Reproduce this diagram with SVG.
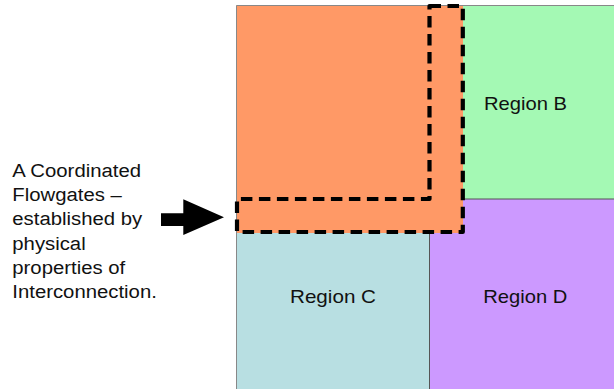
<svg xmlns="http://www.w3.org/2000/svg" width="614" height="389" viewBox="0 0 614 389">
<style>
.lbl{font-family:"Liberation Sans",Arial,sans-serif;font-size:18.5px;fill:#111}
.note{font-family:"Liberation Sans",Arial,sans-serif;font-size:19px;fill:#111}
.edge{stroke:#555;stroke-width:1;fill:none}
</style>
<rect width="614" height="389" fill="#fff"/>
<g id="regionB">
<rect x="463" y="5" width="151" height="194" fill="#A4F9B4"/>
<text class="lbl" x="525.5" y="110" text-anchor="middle" textLength="83" lengthAdjust="spacingAndGlyphs">Region B</text>
</g>
<g id="regionD">
<rect x="429.5" y="199" width="184.5" height="190" fill="#CC99FF"/>
<text class="lbl" x="525.3" y="303" text-anchor="middle" textLength="84" lengthAdjust="spacingAndGlyphs">Region D</text>
</g>
<g id="regionC">
<rect x="236.5" y="232" width="193" height="157" fill="#B8DFE2"/>
<text class="lbl" x="333" y="303" text-anchor="middle" textLength="86" lengthAdjust="spacingAndGlyphs">Region C</text>
</g>
<g id="borders">
<path class="edge" d="M429.5 233V389M463 199H614"/>
</g>
<g id="regionA">
<rect x="236.5" y="5" width="226.5" height="228" fill="#FF9966"/>
<path d="M236.5 389V5.5H614" fill="none" stroke="#888" stroke-width="1"/>
</g>
<g id="flowgate">
<path d="M429.5 6H462.8V232H237V199H429.5Z" fill="none" stroke="#000" stroke-width="4.2" stroke-dasharray="11.5 6.5" stroke-linejoin="round"/>
</g>
<g id="note">
<g transform="translate(12.3,0) scale(1.07,1)">
<text class="note" x="0" y="177">A Coordinated</text>
<text class="note" x="0" y="201.2">Flowgates –</text>
<text class="note" x="0" y="225.4">established by</text>
<text class="note" x="0" y="249.6">physical</text>
<text class="note" x="0" y="273.8">properties of</text>
<text class="note" x="0" y="298">Interconnection.</text>
</g>
</g>
<g id="connectors">
<polygon points="161,213.3 183.3,213.3 183.3,199.3 224,217.2 183.3,235 183.3,226 161,226" fill="#000"/>
</g>
</svg>
